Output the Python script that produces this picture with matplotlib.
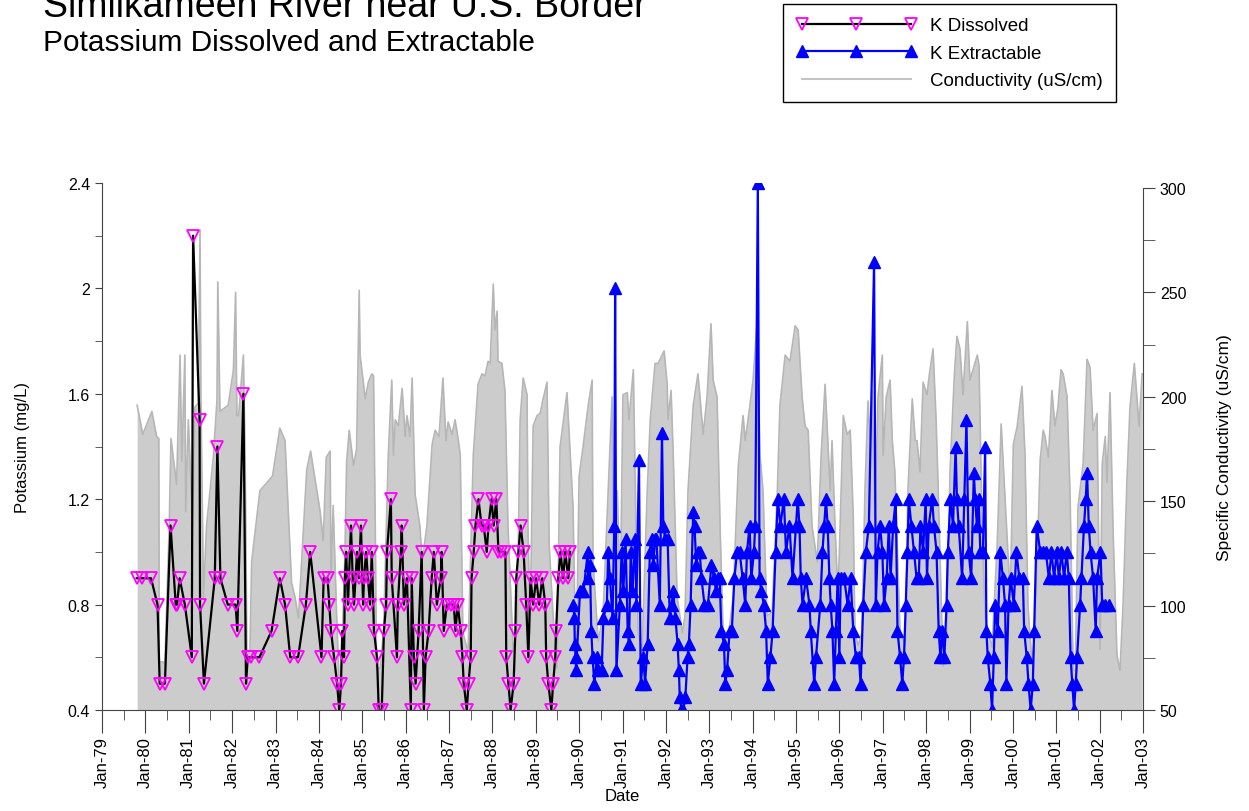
import numpy as np
import matplotlib
matplotlib.use("Agg")
import matplotlib.pyplot as plt
from matplotlib.lines import Line2D
from matplotlib.ticker import FixedLocator, FuncFormatter

plt.rcParams["font.family"] = ["Liberation Sans", "DejaVu Sans"]

# K dissolved (mg/L), decimal year
diss_year = [1979.80, 1979.93, 1980.13, 1980.28, 1980.33, 1980.45, 1980.58, 1980.70, 1980.73, 1980.79,
             1980.91, 1981.07, 1981.10, 1981.25, 1981.26, 1981.35, 1981.60, 1981.66, 1981.73, 1981.90,
             1982.08, 1982.12, 1982.26, 1982.32, 1982.36, 1982.44, 1982.63, 1982.91, 1983.10, 1983.22,
             1983.34, 1983.52, 1983.70, 1983.80, 1984.06, 1984.11, 1984.20, 1984.24, 1984.28, 1984.35,
             1984.42, 1984.47, 1984.51, 1984.54, 1984.58, 1984.60, 1984.63, 1984.67, 1984.74, 1984.78,
             1984.81, 1984.88, 1984.92, 1984.97, 1985.02, 1985.04, 1985.09, 1985.13, 1985.18, 1985.22,
             1985.27, 1985.34, 1985.38, 1985.45, 1985.50, 1985.55, 1985.57, 1985.66, 1985.68, 1985.80,
             1985.82, 1985.89, 1985.91, 1985.96, 1986.03, 1986.12, 1986.14, 1986.19, 1986.23, 1986.30,
             1986.37, 1986.42, 1986.46, 1986.53, 1986.60, 1986.65, 1986.72, 1986.81, 1986.83, 1986.88,
             1986.95, 1987.04, 1987.11, 1987.15, 1987.20, 1987.27, 1987.31, 1987.34, 1987.41, 1987.45,
             1987.50, 1987.52, 1987.57, 1987.61, 1987.68, 1987.75, 1987.80, 1987.87, 1987.91, 1987.98,
             1988.03, 1988.09, 1988.14, 1988.21, 1988.30, 1988.32, 1988.37, 1988.42, 1988.49, 1988.53,
             1988.55, 1988.60, 1988.65, 1988.72, 1988.78, 1988.83, 1988.88, 1988.94, 1989.01, 1989.08,
             1989.15, 1989.22, 1989.24, 1989.29, 1989.36, 1989.40, 1989.45, 1989.47, 1989.52, 1989.57,
             1989.63, 1989.68, 1989.75, 1989.79]
diss_k = [0.9, 0.9, 0.9, 0.8, 0.5, 0.5, 1.1, 0.8, 0.8, 0.9,
          0.8, 0.6, 2.2, 1.5, 0.8, 0.5, 0.9, 1.4, 0.9, 0.8,
          0.8, 0.7, 1.6, 0.5, 0.6, 0.6, 0.6, 0.7, 0.9, 0.8,
          0.6, 0.6, 0.8, 1.0, 0.6, 0.9, 0.9, 0.8, 0.7, 0.6,
          0.5, 0.4, 0.5, 0.7, 0.6, 0.9, 1.0, 0.8, 1.1, 0.9,
          0.8, 1.0, 0.9, 1.1, 0.8, 0.9, 1.0, 0.9, 0.8, 1.0,
          0.7, 0.6, 0.4, 0.4, 0.7, 0.8, 1.0, 1.2, 0.9, 0.6,
          0.8, 1.0, 1.1, 0.8, 0.9, 0.4, 0.9, 0.6, 0.5, 0.7,
          1.0, 0.4, 0.6, 0.7, 0.9, 1.0, 0.8, 0.9, 1.0, 0.7,
          0.8, 0.8, 0.8, 0.7, 0.8, 0.7, 0.6, 0.5, 0.4, 0.5,
          0.6, 0.9, 1.0, 1.1, 1.2, 1.1, 1.1, 1.0, 1.1, 1.2,
          1.1, 1.2, 1.0, 1.0, 1.0, 0.6, 0.5, 0.4, 0.5, 0.7,
          0.9, 1.0, 1.1, 1.0, 0.8, 0.6, 0.9, 0.8, 0.9, 0.8,
          0.9, 0.8, 0.6, 0.5, 0.4, 0.5, 0.6, 0.7, 0.9, 1.0,
          0.9, 1.0, 0.9, 1.0]

# K extractable (mg/L), decimal year
ext_year = [1989.87, 1989.89, 1989.90, 1989.92, 1989.93, 1990.02, 1990.06, 1990.10, 1990.20, 1990.21,
            1990.25, 1990.28, 1990.31, 1990.35, 1990.41, 1990.44, 1990.52, 1990.56, 1990.64, 1990.67,
            1990.71, 1990.77, 1990.81, 1990.83, 1990.86, 1990.94, 1990.98, 1991.02, 1991.07, 1991.12,
            1991.15, 1991.19, 1991.23, 1991.29, 1991.32, 1991.38, 1991.42, 1991.48, 1991.52, 1991.58,
            1991.63, 1991.67, 1991.71, 1991.75, 1991.78, 1991.86, 1991.91, 1991.94, 1991.98, 1992.04,
            1992.09, 1992.13, 1992.17, 1992.22, 1992.27, 1992.30, 1992.32, 1992.36, 1992.40, 1992.45,
            1992.50, 1992.53, 1992.57, 1992.63, 1992.66, 1992.70, 1992.74, 1992.78, 1992.82, 1992.89,
            1992.97, 1993.05, 1993.11, 1993.16, 1993.20, 1993.24, 1993.28, 1993.34, 1993.37, 1993.41,
            1993.47, 1993.52, 1993.58, 1993.64, 1993.70, 1993.77, 1993.83, 1993.87, 1993.93, 1993.97,
            1994.03, 1994.06, 1994.12, 1994.16, 1994.20, 1994.26, 1994.31, 1994.35, 1994.41, 1994.46,
            1994.53, 1994.58, 1994.64, 1994.72, 1994.77, 1994.85, 1994.92, 1995.00, 1995.04, 1995.08,
            1995.11, 1995.15, 1995.23, 1995.31, 1995.34, 1995.42, 1995.46, 1995.56, 1995.61, 1995.65,
            1995.69, 1995.73, 1995.77, 1995.80, 1995.84, 1995.88, 1995.92, 1995.96, 1996.00, 1996.03,
            1996.11, 1996.19, 1996.26, 1996.32, 1996.38, 1996.45, 1996.49, 1996.55, 1996.61, 1996.68,
            1996.80, 1996.84, 1996.88, 1996.94, 1996.99, 1997.03, 1997.09, 1997.14, 1997.18, 1997.24,
            1997.30, 1997.34, 1997.40, 1997.45, 1997.49, 1997.53, 1997.57, 1997.60, 1997.66, 1997.72,
            1997.78, 1997.83, 1997.87, 1997.93, 1997.99, 1998.02, 1998.06, 1998.14, 1998.18, 1998.24,
            1998.29, 1998.33, 1998.37, 1998.42, 1998.47, 1998.50, 1998.56, 1998.62, 1998.68, 1998.71,
            1998.75, 1998.83, 1998.88, 1998.93, 1998.98, 1999.04, 1999.10, 1999.13, 1999.17, 1999.21,
            1999.25, 1999.31, 1999.36, 1999.39, 1999.42, 1999.48, 1999.52, 1999.56, 1999.59, 1999.65,
            1999.71, 1999.77, 1999.82, 1999.85, 1999.90, 1999.95, 2000.02, 2000.08, 2000.15, 2000.23,
            2000.26, 2000.32, 2000.36, 2000.41, 2000.46, 2000.49, 2000.55, 2000.63, 2000.70, 2000.76,
            2000.83, 2000.89, 2000.95, 2001.01, 2001.06, 2001.12, 2001.18, 2001.24, 2001.29, 2001.33,
            2001.37, 2001.41, 2001.45, 2001.48, 2001.55, 2001.58, 2001.64, 2001.68, 2001.71, 2001.75,
            2001.79, 2001.85, 2001.91, 2001.94, 2002.02, 2002.06, 2002.13, 2002.21]
ext_k = [0.80, 0.75, 0.65, 0.60, 0.55, 0.85, 0.85, 0.85, 1.00, 0.90,
         0.95, 0.70, 0.60, 0.50, 0.60, 0.55, 0.55, 0.75, 0.80, 1.00,
         0.90, 0.75, 1.10, 2.00, 0.55, 0.80, 1.00, 0.85, 1.05, 0.70,
         0.65, 1.00, 0.85, 1.05, 0.80, 1.35, 0.50, 0.60, 0.50, 0.65,
         1.00, 1.05, 0.95, 1.05, 1.05, 0.80, 1.45, 1.10, 1.05, 1.05,
         0.75, 0.80, 0.85, 0.75, 0.65, 0.55, 0.45, 0.40, 0.40, 0.45,
         0.60, 0.65, 0.80, 1.15, 1.10, 0.95, 1.00, 1.00, 0.90, 0.80,
         0.80, 0.95, 0.90, 0.85, 0.90, 0.90, 0.70, 0.65, 0.50, 0.55,
         0.70, 0.70, 0.90, 1.00, 1.00, 0.90, 0.80, 1.00, 1.10, 0.90,
         1.00, 1.10, 2.40, 0.90, 0.85, 0.80, 0.70, 0.50, 0.60, 0.70,
         1.00, 1.20, 1.10, 1.20, 1.00, 1.10, 0.90, 1.10, 1.20, 1.10,
         0.90, 0.80, 0.90, 0.80, 0.70, 0.50, 0.60, 0.80, 1.00, 1.10,
         1.20, 1.10, 0.90, 0.80, 0.70, 0.50, 0.70, 0.90, 0.60, 0.90,
         0.90, 0.80, 0.90, 0.70, 0.60, 0.60, 0.50, 0.80, 1.00, 1.10,
         2.10, 0.80, 1.00, 1.10, 1.00, 0.80, 0.90, 1.10, 0.90, 1.10,
         1.20, 0.70, 0.60, 0.50, 0.60, 0.80, 1.00, 1.20, 1.10, 1.00,
         0.90, 0.90, 1.10, 1.00, 1.20, 0.90, 1.10, 1.20, 1.10, 1.00,
         0.70, 0.60, 0.70, 0.60, 0.80, 1.00, 1.20, 1.10, 1.40, 1.20,
         1.10, 0.90, 1.20, 1.50, 1.00, 0.90, 1.30, 1.20, 1.10, 1.20,
         1.00, 1.00, 1.40, 0.70, 0.60, 0.50, 0.40, 0.60, 0.80, 0.70,
         1.00, 0.90, 0.80, 0.50, 0.80, 0.90, 0.80, 1.00, 0.90, 0.90,
         0.70, 0.60, 0.50, 0.40, 0.50, 0.70, 1.10, 1.00, 1.00, 1.00,
         0.90, 1.00, 0.90, 1.00, 0.90, 1.00, 0.90, 1.00, 0.90, 0.60,
         0.50, 0.40, 0.50, 0.60, 0.80, 0.90, 1.10, 1.20, 1.30, 1.10,
         1.00, 0.90, 0.70, 0.90, 1.00, 0.80, 0.80, 0.80]

# specific conductivity (uS/cm), decimal year
cond_year = [1979.81, 1979.94, 1980.15, 1980.26, 1980.31, 1980.32, 1980.41, 1980.45, 1980.55, 1980.59,
             1980.72, 1980.80, 1980.84, 1980.91, 1980.93, 1980.99, 1981.09, 1981.14, 1981.22, 1981.26,
             1981.28, 1981.34, 1981.41, 1981.57, 1981.65, 1981.67, 1981.72, 1981.91, 1982.03, 1982.08,
             1982.11, 1982.15, 1982.26, 1982.30, 1982.34, 1982.41, 1982.45, 1982.64, 1982.93, 1983.10,
             1983.22, 1983.37, 1983.45, 1983.53, 1983.72, 1983.81, 1984.03, 1984.10, 1984.17, 1984.26,
             1984.28, 1984.33, 1984.41, 1984.49, 1984.60, 1984.64, 1984.70, 1984.80, 1984.87, 1984.93,
             1984.95, 1985.07, 1985.14, 1985.22, 1985.26, 1985.30, 1985.33, 1985.41, 1985.49, 1985.60,
             1985.68, 1985.72, 1985.76, 1985.83, 1985.92, 1985.99, 1986.03, 1986.10, 1986.15, 1986.22,
             1986.33, 1986.38, 1986.49, 1986.61, 1986.68, 1986.77, 1986.86, 1986.93, 1986.98, 1987.07,
             1987.14, 1987.21, 1987.26, 1987.32, 1987.44, 1987.56, 1987.67, 1987.76, 1987.83, 1987.90,
             1987.95, 1988.02, 1988.06, 1988.11, 1988.13, 1988.22, 1988.29, 1988.36, 1988.48, 1988.57,
             1988.64, 1988.71, 1988.80, 1988.82, 1988.87, 1988.94, 1989.03, 1989.10, 1989.17, 1989.26,
             1989.31, 1989.40, 1989.49, 1989.56, 1989.72, 1989.86, 1989.93, 1990.00, 1990.09, 1990.21,
             1990.30, 1990.32, 1990.44, 1990.55, 1990.67, 1990.76, 1990.78, 1990.88, 1990.95, 1991.01,
             1991.11, 1991.15, 1991.25, 1991.31, 1991.36, 1991.45, 1991.57, 1991.64, 1991.75, 1991.82,
             1991.96, 1992.03, 1992.05, 1992.12, 1992.17, 1992.26, 1992.38, 1992.44, 1992.51, 1992.63,
             1992.74, 1992.86, 1992.95, 1993.04, 1993.09, 1993.18, 1993.25, 1993.32, 1993.44, 1993.55,
             1993.67, 1993.78, 1993.83, 1993.92, 1994.01, 1994.10, 1994.17, 1994.24, 1994.33, 1994.45,
             1994.57, 1994.63, 1994.75, 1994.86, 1994.98, 1995.05, 1995.14, 1995.21, 1995.28, 1995.37,
             1995.49, 1995.58, 1995.67, 1995.79, 1995.83, 1995.90, 1995.97, 1996.09, 1996.18, 1996.25,
             1996.32, 1996.36, 1996.43, 1996.52, 1996.59, 1996.66, 1996.71, 1996.75, 1996.82, 1996.89,
             1996.99, 1997.01, 1997.08, 1997.17, 1997.22, 1997.28, 1997.40, 1997.52, 1997.58, 1997.68,
             1997.75, 1997.79, 1997.86, 1997.93, 1998.02, 1998.07, 1998.16, 1998.23, 1998.28, 1998.39,
             1998.48, 1998.55, 1998.65, 1998.71, 1998.78, 1998.85, 1998.95, 1999.01, 1999.08, 1999.18,
             1999.22, 1999.29, 1999.36, 1999.43, 1999.52, 1999.64, 1999.73, 1999.80, 1999.87, 1999.94,
             2000.01, 2000.10, 2000.21, 2000.28, 2000.35, 2000.44, 2000.51, 2000.63, 2000.70, 2000.74,
             2000.82, 2000.90, 2000.97, 2001.04, 2001.11, 2001.16, 2001.25, 2001.32, 2001.39, 2001.44,
             2001.50, 2001.62, 2001.71, 2001.78, 2001.85, 2001.94, 2002.01, 2002.06, 2002.13, 2002.17,
             2002.24, 2002.31, 2002.40, 2002.47, 2002.54, 2002.63, 2002.70, 2002.80, 2002.86, 2002.91,
             2002.98]
cond_val = [196, 182, 193, 181, 180, 73, 73, 72, 138, 180,
            158, 220, 169, 220, 145, 189, 138, 195, 197, 280,
            200, 104, 138, 172, 198, 255, 193, 196, 213, 250,
            191, 191, 220, 171, 78, 77, 121, 155, 162, 185,
            179, 111, 104, 94, 165, 174, 145, 131, 171, 174,
            113, 148, 95, 52, 124, 169, 184, 167, 175, 251,
            220, 199, 207, 211, 210, 138, 70, 70, 87, 172,
            208, 172, 189, 186, 204, 181, 191, 181, 209, 153,
            138, 121, 138, 177, 184, 181, 209, 179, 188, 182,
            189, 180, 172, 87, 78, 172, 206, 211, 210, 217,
            216, 254, 232, 241, 217, 216, 203, 138, 78, 90,
            189, 209, 201, 138, 87, 186, 191, 192, 199, 207,
            129, 95, 70, 176, 202, 147, 65, 162, 176, 196,
            208, 121, 83, 95, 155, 200, 138, 155, 104, 201,
            202, 189, 213, 138, 87, 78, 155, 189, 216, 216,
            222, 206, 189, 203, 172, 104, 87, 95, 155, 196,
            211, 182, 200, 235, 208, 200, 138, 87, 85, 104,
            167, 191, 179, 193, 208, 235, 172, 155, 95, 97,
            155, 196, 220, 217, 234, 232, 200, 186, 184, 138,
            121, 172, 206, 155, 179, 138, 104, 191, 182, 184,
            143, 87, 81, 87, 155, 198, 179, 203, 141, 200,
            220, 172, 200, 208, 179, 164, 87, 81, 155, 199,
            179, 179, 164, 207, 201, 210, 223, 189, 155, 71,
            87, 164, 210, 229, 223, 201, 236, 208, 213, 220,
            215, 138, 95, 87, 80, 130, 187, 159, 130, 104,
            177, 186, 205, 172, 99, 73, 87, 170, 184, 181,
            171, 203, 186, 195, 213, 211, 200, 152, 69, 69,
            147, 168, 218, 214, 184, 192, 79, 168, 181, 159,
            202, 136, 76, 69, 100, 160, 195, 216, 200, 186,
            211]

years = list(range(1979, 2004))
year_labels = ["Jan-%02d" % (y % 100) for y in years]

W, H = 1249, 812
PT = 0.72  # points per pixel at 100 dpi
fig = plt.figure(figsize=(W / 100, H / 100), dpi=100)
ax = fig.add_axes([102 / W, 1 - 711 / H, 1041 / W, 527 / H])
ax2 = ax.twinx()
ax.set_zorder(ax2.get_zorder() + 1)
ax.patch.set_visible(False)

# conductivity as grey area on the right axis
ax2.fill_between(cond_year, 0, cond_val, color="#cccccc", lw=0)
ax2.plot(cond_year, cond_val, color="#b6b6b6", lw=1.2)
ax2.set_ylim(50, 302.4)

ax.plot(diss_year, diss_k, color="black", lw=1.6, marker="v", ms=8.5,
        mfc="none", mec="#ff00ff", mew=1.3)
ax.plot(ext_year, ext_k, color="#0000ff", lw=1.6, marker="^", ms=8.5,
        mfc="#0000ff", mec="#0000ff")

ax.set_xlim(1979, 2003)
ax.set_ylim(0.4, 2.4)

spine_col = "#444444"
for s in ["top", "right"]:
    ax.spines[s].set_visible(False)
for s in ["top", "left", "bottom"]:
    ax2.spines[s].set_visible(False)
for s in ["left", "bottom"]:
    ax.spines[s].set_color(spine_col)
ax2.spines["right"].set_color(spine_col)
ax2.spines["right"].set_bounds(50, 300)

ax.xaxis.set_major_locator(FixedLocator(years))
ax.xaxis.set_minor_locator(FixedLocator([y + 0.5 for y in years[:-1]]))
ax.set_xticklabels(year_labels, rotation=90, fontsize=12)
ax.tick_params(axis="x", which="major", length=23 * PT, color=spine_col, pad=2)
ax.tick_params(axis="x", which="minor", length=10 * PT, color=spine_col)

ax.yaxis.set_major_locator(FixedLocator([0.4, 0.8, 1.2, 1.6, 2.0, 2.4]))
ax.yaxis.set_minor_locator(FixedLocator([0.6, 1.0, 1.4, 1.8, 2.2]))
ax.yaxis.set_major_formatter(FuncFormatter(lambda v, p: "%g" % round(v, 1)))
ax.tick_params(axis="y", which="both", length=7 * PT, color=spine_col, labelsize=11.5)

ax2.yaxis.set_major_locator(FixedLocator([50, 100, 150, 200, 250, 300]))
ax2.yaxis.set_minor_locator(FixedLocator([75, 125, 175, 225, 275]))
ax2.tick_params(axis="y", which="both", length=12 * PT, color=spine_col, labelsize=11.5)

ax.set_ylabel("Potassium (mg/L)", fontsize=12, labelpad=27)
ax2.set_ylabel("Specific Conductivity (uS/cm)", fontsize=12.5, labelpad=22)
ax.set_xlabel("Date", fontsize=12, labelpad=1)

fig.text(43 / W, 1 - 17 / H, "Similkameen River near U.S. Border", fontsize=27,
         va="baseline", ha="left")
fig.text(43 / W, 1 - 51 / H, "Potassium Dissolved and Extractable", fontsize=21.4,
         va="baseline", ha="left")

handles = [
    Line2D([], [], color="black", lw=1.6, marker="v", ms=8.5, mfc="none",
           mec="#ff00ff", mew=1.3),
    Line2D([], [], color="#0000ff", lw=1.6, marker="^", ms=8.5, mfc="#0000ff",
           mec="#0000ff"),
    Line2D([], [], color="#c4c4c4", lw=1.5),
]
leg = fig.legend(handles, ["K Dissolved", "K Extractable", "Conductivity (uS/cm)"],
                 loc="upper left", bbox_to_anchor=(783 / W, 1 - 5 / H),
                 numpoints=3, fontsize=13.5, handlelength=6.4, handletextpad=0.75,
                 labelspacing=0.55, borderpad=0.7, borderaxespad=0,
                 fancybox=False, framealpha=1)
leg.get_frame().set_edgecolor("black")
leg.get_frame().set_linewidth(1.0)

fig.savefig("out.png", dpi=100)
